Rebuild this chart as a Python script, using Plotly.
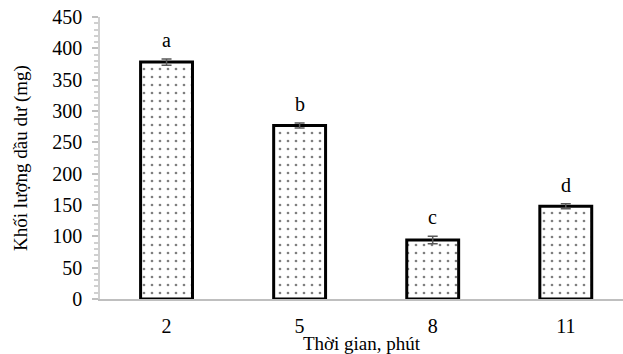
import plotly.graph_objects as go

# Residual oil mass by processing time
time_labels = ["2", "5", "8", "11"]
oil_mass = [378, 277, 94, 148]
oil_err = [5, 4, 6, 4]
group_letters = ["a", "b", "c", "d"]
y_ticks = [0, 50, 100, 150, 200, 250, 300, 350, 400, 450]

FONT = "Liberation Serif"

fig = go.Figure()
fig.add_trace(go.Bar(
    x=time_labels,
    y=oil_mass,
    width=0.39,
    marker=dict(
        color="white",
        line=dict(color="black", width=3),
        pattern=dict(shape=".", fgcolor="black", bgcolor="white", size=8, solidity=0.09),
    ),
    error_y=dict(type="data", array=oil_err, color="#595959", thickness=1.5, width=5),
    showlegend=False,
))

# significance letters above each bar (category index positions)
for i, (val, err, letter) in enumerate(zip(oil_mass, oil_err, group_letters)):
    fig.add_annotation(x=i, y=val + err, text=letter, showarrow=False,
                       xref="x", yref="y", yanchor="bottom", yshift=6,
                       font=dict(family=FONT, size=20, color="black"))

fig.update_layout(
    width=623, height=354,
    margin=dict(l=100, r=0, t=17, b=55),
    paper_bgcolor="white", plot_bgcolor="white",
    font=dict(family=FONT, size=20, color="black"),
    xaxis=dict(
        type="category",
        range=[-0.5, 3.43],
        showline=True, linecolor="#bfbfbf", linewidth=2,
        ticks="", showgrid=False,
        tickfont=dict(family=FONT, size=20),
        ticklabelstandoff=8,
        title=dict(text="Thời gian, phút", font=dict(family=FONT, size=19), standoff=0),
    ),
    yaxis=dict(
        range=[0, 450],
        tickvals=y_ticks,
        showline=True, linecolor="#d0d0d0", linewidth=1.5,
        ticks="outside", ticklen=6, tickcolor="#bfbfbf", tickwidth=1.5,
        minor=dict(ticks="outside", ticklen=4, tickcolor="#d0d0d0", tickvals=list(range(0, 451, 10))),
        showgrid=False, zeroline=False,
        tickfont=dict(family=FONT, size=20),
        ticklabelstandoff=6,
        title=dict(text="Khối lượng dầu dư (mg)", font=dict(family=FONT, size=19), standoff=20),
    ),
)

fig.write_html("out.html")
